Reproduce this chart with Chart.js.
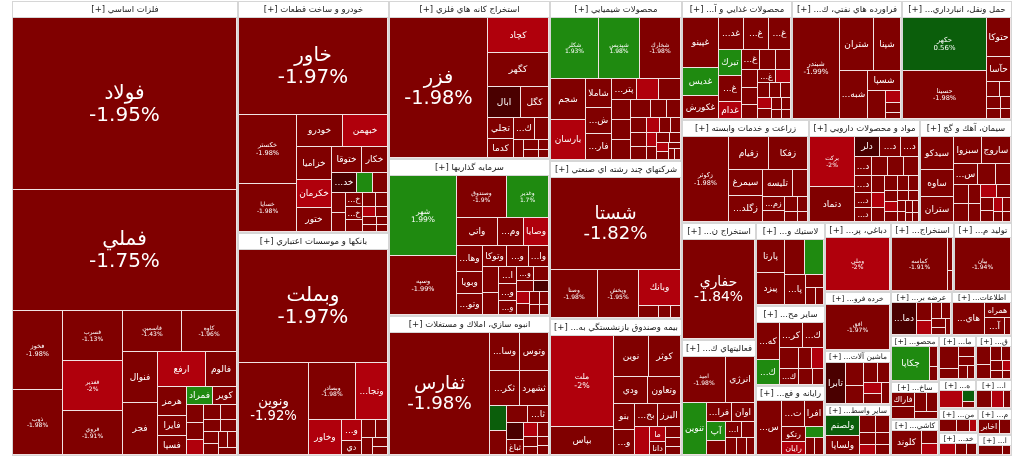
<!DOCTYPE html>
<html>
<head>
<meta charset="utf-8">
<script src="https://cdn.jsdelivr.net/npm/chart.js@4.4.1/dist/chart.umd.min.js"></script>
<style>
  html, body { margin: 0; padding: 0; background: #fff; }
  #wrap { width: 1024px; height: 465px; }
</style>
</head>
<body>
<div id="wrap"><canvas id="marketMap"></canvas></div>
<script>
// sectors (group headers) and their total value
const sectorNames = [
  'فلزات اساسي', 'خودرو و ساخت قطعات', 'بانكها و موسسات اعتباري', 'استخراج كانه هاي فلزي',
  'سرمايه گذاريها', 'انبوه سازي، املاك و مستغلات', 'محصولات شيميايي', 'شركتهاي چند رشته اي صنعتي',
  'بيمه وصندوق بازنشستگي به جزتامين اجتماعي', 'محصولات غذايي و آشاميدني به جز قند و شكر',
  'فراورده هاي نفتي، كك و سوخت هسته اي', 'حمل ونقل، انبارداري و ارتباطات', 'زراعت و خدمات وابسته',
  'مواد و محصولات دارويي', 'سيمان، آهك و گچ', 'استخراج نفت گاز و خدمات جنبي جز اكتشاف',
  'فعاليتهاي كمكي به نهادهاي مالي واسط', 'لاستيك و پلاستيك', 'ساير محصولات كاني غيرفلزي',
  'رايانه و فعاليتهاي وابسته به آن', 'دباغي، پرداخت چرم و ساخت انواع پاپوش', 'استخراج ساير معادن',
  'توليد محصولات كامپيوتري الكترونيكي و نوري', 'خرده فروشي،باستثناي وسايل نقليه موتوري',
  'ماشين آلات و تجهيزات', 'ساير واسطه گريهاي مالي', 'عرضه برق، گاز، بخاروآب گرم', 'اطلاعات و ارتباطات',
  'محصولات كاغذي', 'ساخت محصولات فلزي', 'كاشي و سراميك', 'ماشين آلات و دستگاههاي برقي', 'قند و شكر',
  'هتل و رستوران', 'استخراج زغال سنگ', 'منسوجات', 'خدمات فني و مهندسي', 'مخابرات', 'انتشار، چاپ و تكثير'
];
const sectorValues = [
  102375, 35032, 33673, 25400, 25300, 22555, 20960, 20698, 17947, 13120,
  13080, 13060, 13000, 11400, 9460, 8580, 8575, 5700, 5450, 4830,
  4550, 4350, 3950, 3900, 3600, 3400, 2640, 2630, 2200, 1800,
  1700, 1650, 1600, 1100, 1050, 950, 900, 880, 700
];

// stocks of each sector, same order as sectorNames
const stockNames = [
  ['فولاد','فملي','فخوز','ذوب','فسرب','فغدير','فروي','فاسمين','كاوه','فنوال','فجر','ارفع','فالوم','هرمز','فايرا','فسپا','فمراد','كوير','فلوله','فاذر','فنورد','فرآور','فپنتا','فباهنر','فسازان','فزرين','فكاوه','فتوسا','فجهان','فوكا'],
  ['خاور','خكستر','خسايا','خودرو','خبهمن','خزاميا','خكرمان','ختور','ختوقا','خكار','خديزل','خمحركه','خريخت','خمهر','خلنت','خپارس','خاهن','خفناور','خرينگ','خچرخش','خصدرا','خموتور','خگستر','خشرق','خفنر','خوساز'],
  ['وبملت','ونوين','وبصادر','وتجارت','وخاور','وپارس','دي','وسينا','وكار','وكوثر','وزمين','وملل'],
  ['فزر','كچاد','كگهر','ابال','كگل','تجلي','كدما','كروي','كمنگنز','كسرا','كاما','كنور','كپرور','كترام'],
  ['شهر','وسپه','وصندوق','وغدير','واتي','ومهان','وصايا','وهامون','وبويا','وتوسم','وتوكا','ونيكي','واعتبار','وسمنان','وآذر','اتكاي','وسكاب','وكغدير','وسديد','ولكار','وكبهمن','وبرق','وسكرد','وصنعت','وامين','وسپهر','ورنا','وپترو'],
  ['ثفارس','وساخت','وتوس','ثكرمان','ثشهرد','ثامان','ثمسكن','ثشاهد','ثاخت','ثعمرا','ثباغ','ثشرق','ثنوسا','ثاصفا','ثجنوب','ثتران','ثرود'],
  ['شكلر','شپديس','شخارك','شجم','بارسان','شاملا','شلوله','فارس','پترول','شفن','شپارس','كرماشا','شيراز','شسينا','شپترو','شاراك','شصدف','شزنگ','شفارس','شدوص','شگل','شرانل','شكربن','شپاكسا','شتوكا','شغدير','شصفها','شيران','شلرد','شوينده','شفام','شاروم'],
  ['شستا','وصنا','وپخش','وبانك','وتوشه','واميد','وكاسپين'],
  ['ملت','بپاس','نوين','كوثر','ودي','وتعاون','بنو','وبهار','بخاور','البرز','آسيا','ما','دانا','سرمد','پارسيان','حافظ'],
  ['غپينو','غديس','غكورش','غدشت','غسالم','غصينو','تبرك','غبهنوش','غدام','غزر','غشهد','غگل','غپاك','غگرجي','غبشهر','غمارگ','غشان','غنيلي','غبهار','غپآذر','غشاذر','غفارس','غالبر','غخاك','غويتا','غدانه'],
  ['شبندر','شتران','شپنا','شبهرن','شسپا','شبريز','شاوان','شراز','شنفت'],
  ['حكهر','حسينا','حتوكا','حآسا','حپارسا','حكشتي','حريل','حفارس','حسير','حبندر'],
  ['زكوثر','زقيام','زفكا','سيمرغ','زگلدشت','تليسه','زماهان','زمگسا','زشريف','زبينا','زدشت','زشگزا','زاگرس'],
  ['بركت','دتماد','دلر','دسبحا','دجابر','ديران','دفارا','دعبيد','درازك','دالبر','دكيمي','دپارس','دابور','دامين','دزهراوي','دشيمي','داسوه','دتوليد','دسينا','دفرا','دقاضي','دكپسول','داوه','دتهران','دبالك','دحاوي','دعيد','دشيري','ددام'],
  ['سيدكو','ساوه','ستران','سبزوا','ساروج','سصفها','ساربيل','سفار','سشمال','سخزر','سكرما','سهگمت','سفانو','سمازن','سقاين','سدور','سيلام','سغرب','سنير','سخاش'],
  ['حفاري'],
  ['اميد','انرژي','تنوين','فرابورس','اوان','آپ','سپيد','امين','تسهيل','رسپا','ثنام','اعتماد'],
  ['پارتا','پيزد','پكرمان','پسهند','پاكشو','پلاسك','پكوير','پتاير'],
  ['كهمدا','كيسون','كرازي','كساپا','كگاز','كخاك','كباده','كلر','كفرا','كصدف'],
  ['سيستم','تپسي','افرا','رتكو','رايان','فن آوا','مفاخر','سپيدار'],
  ['وملي'],
  ['كماسه','كصفا','كمرجان'],
  ['بيان'],
  ['افق'],
  ['تابرا','تپمپي','تمحركه','فنر','لابسا','تكشا','تاصيكو','تكنار'],
  ['ولصنم','ولساپا','ولتجار','ولبهمن','وكيان','ولملت','ولپارس','وليز'],
  ['دماوند','بكاب','بموتو','بپيوند','بفجر','بزاگرس','بجهرم','بمپنا'],
  ['هاي وب','همراه','آسياتك','ارتباط'],
  ['چكاپا','چفيبر','چكارن'],
  ['فاراك','فنرژي','فكمند','فتكنو','فسديد'],
  ['كلوند','كسعدي','كحافظ'],
  ['بترانس','بشهاب','بنيرو','بالبر','بسويچ','بكام'],
  ['قثابت','قشكر','قلرست','قنيشا','قشيرين','قهكمت','قصفها','قمرو'],
  ['سمگا','گردش','اماكن'],
  ['كزغال','كطبس','كالبر'],
  ['نطرين','نبروج','نگين'],
  ['تكنو','رافزا','مپنا'],
  ['اخابر','مخابر'],
  ['بالاس','چاپ']
];
const stockValues = [
  [39150,27675,3950,3300,3050,3020,2709,2436,2268,1850,1850,1748,1100,840,580,560,476,420,330,300,280,260,240,220,200,180,160,150,140,120],
  [14647,3990,2793,1460,1430,1190,1015,875,780,700,500,340,300,280,260,240,220,200,180,160,140,120,110,100,90,80],
  [17214,6532,2736,1824,1190,440,300,260,220,180,150,120],
  [14100,2196,2190,1050,910,560,500,480,300,200,160,120,100,80],
  [5494,4020,2142,1806,1176,756,702,700,600,560,520,480,450,420,350,300,300,250,230,210,200,180,170,150,130,120,100,90],
  [12875,1160,1160,1102,1102,432,414,380,380,300,260,200,160,150,120,110,100],
  [2880,2460,2460,1419,1386,775,675,675,520,460,460,400,380,380,360,300,260,240,220,200,180,160,150,140,130,120,110,100,90,80,70,60],
  [12183,2256,1974,1517,250,150,120],
  [6240,1900,1530,1395,990,960,588,567,567,560,448,272,220,180,150,120],
  [1850,1073,851,851,851,756,621,621,420,400,330,320,310,300,250,230,200,190,170,160,150,140,120,110,100,90],
  [4896,1890,1472,1426,702,520,200,150,100],
  [4536,4032,925,600,200,180,160,140,120,100],
  [3910,1344,1280,918,884,832,416,300,250,200,150,120,100],
  [2800,1950,625,520,450,420,400,380,380,350,320,300,280,260,240,220,200,180,170,160,150,140,130,120,110,100,90,80,70],
  [1056,864,800,750,750,500,360,300,280,260,240,220,200,180,160,140,120,100,90,80],
  [7300],
  [2156,1421,1325,525,480,400,300,260,230,200,180,150],
  [1015,986,775,760,684,260,200,150],
  [920,620,600,560,420,330,300,280,250,190],
  [1480,630,544,380,322,200,180,160],
  [4000],
  [3190,180,110],
  [3000],
  [3000],
  [784,420,320,260,240,200,180,160],
  [850,800,350,300,250,220,200,180],
  [840,290,220,180,150,130,110,90],
  [1050,400,380,100],
  [1148,150,110],
  [300,250,200,180,150],
  [616,170,150],
  [540,240,200,180,150,120],
  [400,300,250,200,180,150,130,110],
  [360,120,60],
  [300,250,150],
  [250,180,100],
  [220,150,140],
  [300,150],
  [300,100]
];
// daily change, percent
const stockChanges = [
  [-1.95,-1.75,-1.98,-1.98,-1.13,-2,-1.91,-1.43,-1.96,-1.9,-1.85,-2.4,-1.97,-1.8,-1.9,-1.7,1.6,-1.5,-1.9,-1.6,-2.2,-1.9,-1.8,-1.9,-1.7,-1.9,-1.5,-1.9,-1.8,-1.9],
  [-1.97,-1.98,-1.98,-1.9,-2.4,-1.9,-2.5,-1.9,-1.8,-1.9,-0.6,1.8,-1.9,-1.7,-1.9,-1.8,-1.9,-1.6,-1.9,-1.8,-2.3,-1.9,-1.7,-1.9,-1.8,-1.9],
  [-1.97,-1.92,-1.98,-2.2,-2.3,-2.1,-1.9,-1.8,-1.9,-1.7,-1.9,-1.8],
  [-1.98,-2,-1.98,-0.5,-1.9,-1.9,-1.8,-1.9,-1.7,-1.9,-1.8,-1.9,-1.6,-1.9],
  [1.99,-1.99,-1.9,1.7,-1.9,-1.8,-2.3,-1.9,-1.9,-1.8,-1.9,-1.7,-1.9,-1.8,-1.9,-1.9,-1.8,-1.9,-1.7,-1.9,-1.8,-0.5,-2.3,-1.9,-1.8,-1.9,-1.7,-1.9],
  [-1.98,-1.9,-1.9,-1.8,-1.9,0.9,-1.8,-1.9,-1.8,-0.6,-1.9,-2.4,-1.9,-1.8,-1.9,-1.7,-1.9],
  [1.93,1.98,-1.98,-1.9,-2.4,-1.9,-1.8,-1.9,-1.9,-2.3,-1.9,-1.8,-1.9,-1.9,-1.8,-1.9,-1.8,-1.9,-1.7,-1.9,-2.3,-1.9,-1.8,-2.2,-1.9,-1.8,-1.9,-2.2,-1.9,-1.8,-1.9,-1.8],
  [-1.82,-1.98,-1.95,-2.4,-1.9,-1.8,-1.9],
  [-2,-1.9,-1.9,-1.9,-1.8,-1.9,-1.9,-1.9,-1.9,-1.8,-2.3,-2.2,-1.9,-1.8,-1.9,-1.8],
  [-1.98,1.9,-1.9,-1.9,-1.9,-1.9,1.8,-1.9,-2.4,-1.9,-1.8,-1.9,-1.8,-1.9,-1.9,-1.8,-2.3,-1.9,-1.8,-1.9,-2.2,-1.9,-1.8,-1.9,-1.7,-1.9],
  [-1.99,-1.98,-1.9,-1.9,-1.9,-1.8,-2.3,-1.9,-1.8],
  [0.56,-1.98,-1.9,-1.9,-1.8,-1.9,-1.7,-1.9,-1.8,-1.9],
  [-1.98,-1.9,-1.9,-1.9,-1.9,-1.8,-1.9,-1.8,-1.9,-1.7,-1.9,-1.8,-1.9],
  [-2,-1.98,-0.7,-1.9,-1.8,-1.9,-1.9,-1.8,-1.9,-1.9,-1.8,-1.9,-1.9,-2.3,-1.9,-1.8,-1.9,-1.9,-1.8,-2.2,-1.9,-1.8,-1.9,-1.9,-1.8,-1.9,-1.9,-1.8,-1.9],
  [-1.9,-1.9,-1.8,-1.9,-1.9,-1.8,-1.9,-1.9,-1.8,-1.9,-1.9,-1.8,-2.3,-1.9,-1.8,-1.9,-2.4,-1.9,-1.8,-1.9],
  [-1.84],
  [-1.98,-1.9,1.6,-1.9,-1.8,1.5,-1.9,-1.8,-1.9,-1.9,-1.8,-1.9],
  [-1.9,-1.9,-1.9,1.8,-1.8,-1.9,-1.8,-1.9],
  [-1.9,1.8,-1.9,-1.8,-1.9,-1.9,-1.8,-2.3,-1.9,-1.8],
  [-1.98,-1.9,-1.9,-1.8,-2.4,1.7,-1.9,-1.8],
  [-2],
  [-1.91,-1.9,-1.8],
  [-1.94],
  [-1.97],
  [-0.7,-1.9,-1.9,-1.8,-1.9,-2.3,-1.9,-1.8],
  [0.8,-1.9,-1.9,-1.8,-1.9,-2.3,-1.9,-1.8],
  [-0.6,-1.9,-2.4,-1.9,-1.8,-1.9,-1.8,-1.9],
  [-1.9,-1.9,-1.8,-1.9],
  [1.9,-1.9,-1.8],
  [-1.9,-1.8,-1.9,-1.9,-1.8],
  [-1.9,-1.9,-2.3],
  [-1.9,-1.9,-1.8,-1.9,-1.8,-1.9],
  [-1.9,-1.9,-1.8,-1.9,-1.8,-1.9,-2.3,-1.9],
  [-2.3,1.1,-1.9],
  [-1.9,-2.4,-1.9],
  [-1.9,-1.8,-2.3],
  [-2.4,-1.9,-1.9],
  [-1.9,-1.8],
  [-1.9,-1.8]
];

const FONT = '"DejaVu Sans", sans-serif';

function changeColor(p) {
  if (p >= 1.5) return '#1f8a10';
  if (p > 0) return '#0b5e0b';
  if (p <= -2) return '#b0000c';
  if (p <= -1) return '#800000';
  return '#4a0000';
}

// classic squarified layout, values must be sorted large -> small
function worst(row, side) {
  const s = row.reduce((a, b) => a + b, 0);
  const mx = Math.max(...row), mn = Math.min(...row);
  return Math.max(side * side * mx / (s * s), (s * s) / (side * side * mn));
}
function squarify(values, x, y, w, h) {
  const total = values.reduce((a, b) => a + b, 0);
  const areas = values.map(v => v * w * h / total);
  const out = [];
  let i = 0;
  while (i < areas.length) {
    const side = Math.min(w, h);
    let row = [areas[i]], j = i + 1, best = worst(row, side);
    while (j < areas.length) {
      const test = row.concat(areas[j]);
      const r = worst(test, side);
      if (r > best) break;
      row = test; best = r; j++;
    }
    const sum = row.reduce((a, b) => a + b, 0);
    if (w >= h) {
      const cw = sum / h; let yy = y;
      row.forEach(a => { out.push({ x: x, y: yy, w: cw, h: a / cw }); yy += a / cw; });
      x += cw; w -= cw;
    } else {
      const rh = sum / w; let xx = x;
      row.forEach(a => { out.push({ x: xx, y: y, w: a / rh, h: rh }); xx += a / rh; });
      y += rh; h -= rh;
    }
    i = j;
  }
  return out;
}
function sortedIndex(vals) {
  return vals.map((v, i) => i).sort((a, b) => vals[b] - vals[a] || a - b);
}

// shorten an RTL string with "..." until it fits
function fitText(ctx, text, maxW, suffix) {
  suffix = suffix || '';
  if (ctx.measureText(text + suffix).width <= maxW) return text + suffix;
  for (let k = text.length - 1; k >= 1; k--) {
    const t = text.slice(0, k).trim() + '...' + suffix;
    if (ctx.measureText(t).width <= maxW) return t;
  }
  return null;
}

function drawCellLabel(ctx, x, y, w, h, name, pct) {
  const area = w * h;
  const cx = x + w / 2, cy = y + h / 2;
  ctx.fillStyle = '#fff';
  ctx.textAlign = 'center';
  ctx.textBaseline = 'middle';
  const twoLines = (f) => {
    let size = f;
    ctx.font = size + 'px ' + FONT;
    while (size > 6 && ctx.measureText(name).width > w - 4) {
      size -= 0.5; ctx.font = size + 'px ' + FONT;
    }
    ctx.direction = 'rtl';
    ctx.fillText(name, cx, cy - size * 0.5);
    ctx.direction = 'ltr';
    ctx.fillText(pct + '%', cx, cy + size * 0.6);
  };
  if (area >= 6000) {
    twoLines(Math.min(20, Math.max(13, Math.sqrt(area) / 6)));
  } else if (Math.min(w, h) >= 38) {
    twoLines(Math.min(9, Math.max(6, Math.sqrt(area) / 9.5)));
  } else if (h >= 12 && w >= 12) {
    ctx.font = (h >= 16 ? 9 : 8) + 'px ' + FONT;
    ctx.direction = 'rtl';
    const t = fitText(ctx, name, w - 3);
    if (t) ctx.fillText(t, cx, cy + 0.5);
  }
  ctx.direction = 'ltr';
}

const treemapPlugin = {
  id: 'treemap',
  afterDraw(chart) {
    const ctx = chart.ctx;
    const xs = chart.scales.x, ys = chart.scales.y;
    const left = xs.getPixelForValue(xs.min), right = xs.getPixelForValue(xs.max);
    const top = ys.getPixelForValue(ys.min), bottom = ys.getPixelForValue(ys.max);

    const sOrder = sortedIndex(sectorValues);
    const sRects = squarify(sOrder.map(i => sectorValues[i]), left, top, right - left, bottom - top);

    ctx.save();
    sOrder.forEach((si, n) => {
      const r = sRects[n];
      const x0 = Math.round(r.x), y0 = Math.round(r.y);
      const x1 = Math.round(r.x + r.w), y1 = Math.round(r.y + r.h);
      ctx.fillStyle = '#d6d6d6';
      ctx.fillRect(x0, y0, x1 - x0, y1 - y0);

      const hh = Math.round(Math.min(16, Math.max(10, (y1 - y0) * 0.2)));
      ctx.fillStyle = '#fff';
      ctx.fillRect(x0 + 1, y0 + 1, x1 - x0 - 2, hh - 1);
      ctx.fillStyle = '#1a1a1a';
      ctx.font = (hh >= 14 ? 8.5 : 7.5) + 'px ' + FONT;
      ctx.textAlign = 'center';
      ctx.textBaseline = 'middle';
      ctx.direction = 'rtl';
      let head = fitText(ctx, sectorNames[si], x1 - x0 - 6, ' [+]');
      if (!head) head = '[+]';
      ctx.fillText(head, (x0 + x1) / 2, y0 + hh / 2 + 1);
      ctx.direction = 'ltr';

      // stock cells inside the sector
      const cx0 = x0 + 1, cy0 = y0 + hh + 1, cw = x1 - x0 - 2, ch = y1 - y0 - hh - 2;
      ctx.fillStyle = '#f1e2e2';
      ctx.fillRect(cx0, cy0, cw, ch);
      const vals = stockValues[si];
      const order = sortedIndex(vals);
      const cells = squarify(order.map(i => vals[i]), cx0, cy0, cw, ch);
      order.forEach((k, m) => {
        const c = cells[m];
        const a0 = Math.round(c.x), b0 = Math.round(c.y);
        const a1 = Math.round(c.x + c.w), b1 = Math.round(c.y + c.h);
        if (a1 - a0 < 2 || b1 - b0 < 2) return;
        ctx.fillStyle = changeColor(stockChanges[si][k]);
        ctx.fillRect(a0, b0, a1 - a0 - 1, b1 - b0 - 1);
        drawCellLabel(ctx, a0, b0, a1 - a0 - 1, b1 - b0 - 1, stockNames[si][k], stockChanges[si][k]);
      });
    });
    ctx.restore();
  }
};

const config = {
  type: 'scatter',
  data: { datasets: [] },
  options: {
    responsive: true,
    maintainAspectRatio: false,
    animation: false,
    events: [],
    layout: { padding: { left: 12, right: 12, top: 1, bottom: 9 } },
    plugins: { legend: { display: false }, tooltip: { enabled: false } },
    scales: {
      x: { type: 'linear', min: 0, max: 1000, display: false },
      y: { type: 'linear', min: 0, max: 455, reverse: true, display: false }
    }
  },
  plugins: [treemapPlugin]
};
const marketMap = new Chart(document.getElementById('marketMap'), config);
</script>
</body>
</html>
